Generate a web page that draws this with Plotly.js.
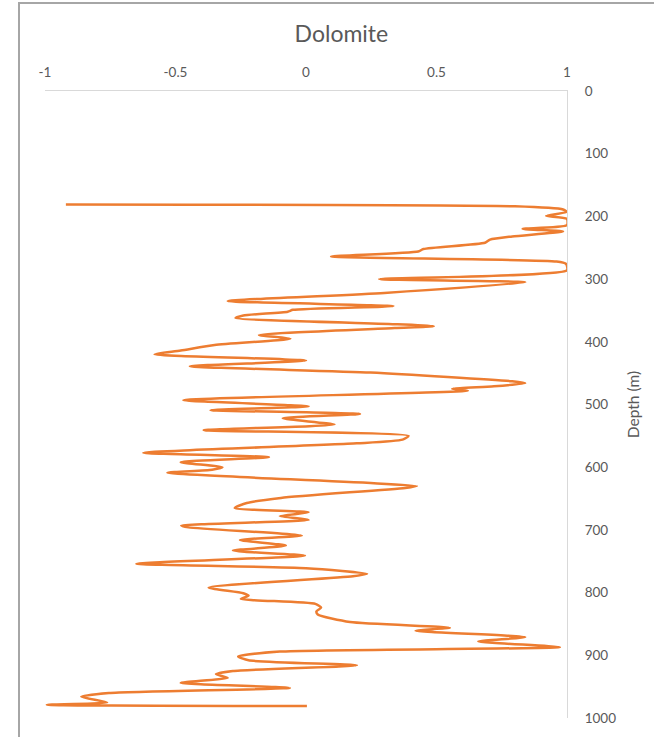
<!DOCTYPE html>
<html>
<head>
<meta charset="utf-8">
<script src="https://cdn.plot.ly/plotly-3.0.1.min.js"></script>
<style>
  html, body { margin: 0; padding: 0; background: #ffffff; overflow: hidden; }
  #frame { position: absolute; left: 18px; top: 2px; width: 700px; height: 800px;
           border-left: 2px solid #a6a6a6; border-top: 2px solid #a6a6a6; box-sizing: border-box; }
  #chart { position: absolute; left: 0; top: 0; width: 654px; height: 737px; }
</style>
</head>
<body>
<div id="frame"></div>
<div id="chart"></div>
<script>
// Dolomite log versus depth
const depthM = [
  181, 184, 189, 193, 199, 204, 214, 220, 224, 232,
  237, 242, 252, 256, 264, 272, 276, 286, 300, 305,
  322, 335, 343, 349, 352, 358, 362, 372, 375, 378,
  389, 395, 405, 414, 420, 430, 439, 449, 463, 466,
  471, 475, 478, 493, 503, 509, 515, 522, 532, 541,
  550, 556, 562, 577, 584, 592, 600, 604, 609, 630,
  633, 649, 657, 665, 672, 678, 684, 693, 696, 709,
  716, 725, 733, 741, 754, 761, 770, 774, 792, 801,
  805, 810, 818, 824, 830, 835, 847, 856, 861, 871,
  878, 887, 894, 902, 908, 916, 925, 930, 936, 944,
  952, 960, 966, 975, 979, 981
];
const dolomite = [
  -0.92, 0.80, 0.985, 1.0, 0.92, 1.0, 1.0, 0.83, 0.985, 0.79,
  0.705, 0.686, 0.45, 0.43, 0.096, 0.96, 0.997, 1.0, 0.28, 0.84,
  0.30, -0.30, 0.335, -0.05, -0.07, -0.24, -0.27, 0.35, 0.49, 0.34,
  -0.18, -0.06, -0.35, -0.48, -0.58, 0.0, -0.445, 0.247, 0.79, 0.84,
  0.72, 0.56, 0.62, -0.47, 0.01, -0.366, 0.207, -0.089, 0.109, -0.392,
  0.393, 0.37, 0.195, -0.623, -0.142, -0.48, -0.32, -0.36, -0.531, 0.425,
  0.38, -0.096, -0.227, -0.273, 0.01, -0.1, 0.01, -0.478, -0.45, -0.016,
  -0.253, -0.077, -0.28, -0.004, -0.65, 0.0, 0.234, 0.18, -0.373, -0.24,
  -0.22, -0.25, 0.036, 0.058, 0.04, 0.045, 0.169, 0.551, 0.42, 0.84,
  0.66, 0.973, -0.1, -0.26, -0.22, 0.195, -0.28, -0.345, -0.30, -0.48,
  -0.062, -0.755, -0.861, -0.762, -0.993, 0.0035
];
const xTicks = [-1, -0.5, 0, 0.5, 1];
const xTickText = ['-1', '-0.5', '0', '0.5', '1'];
const yTicks = [0, 100, 200, 300, 400, 500, 600, 700, 800, 900, 1000];

const textColor = '#595959';
const fontFamily = 'Lato, "Open Sans", sans-serif';

const trace = {
  x: dolomite,
  y: depthM,
  type: 'scatter',
  mode: 'lines',
  line: { color: '#ED7D31', width: 2.5, shape: 'spline', smoothing: 0.6 },
  hoverinfo: 'x+y'
};

const layout = {
  width: 654,
  height: 737,
  margin: { l: 45, r: 87, t: 91, b: 19 },
  paper_bgcolor: 'rgba(0,0,0,0)',
  plot_bgcolor: 'rgba(0,0,0,0)',
  showlegend: false,
  title: {
    text: 'Dolomite',
    font: { family: fontFamily, size: 23, color: textColor },
    xref: 'container', x: 0.522, xanchor: 'center',
    yref: 'container', y: 0.954, yanchor: 'middle'
  },
  xaxis: {
    side: 'top',
    range: [-1, 1],
    tickvals: xTicks,
    ticktext: xTickText,
    showgrid: false,
    zeroline: false,
    showline: true,
    linecolor: '#d9d9d9',
    linewidth: 1,
    ticks: '',
    ticklabelstandoff: 8,
    tickfont: { family: fontFamily, size: 13.5, color: textColor },
    fixedrange: true
  },
  yaxis: {
    side: 'right',
    range: [1000, 0],
    tickvals: yTicks,
    showgrid: false,
    zeroline: false,
    showline: true,
    linecolor: '#d9d9d9',
    linewidth: 1,
    ticks: '',
    ticklabelstandoff: 14,
    tickfont: { family: fontFamily, size: 13.5, color: textColor },
    title: {
      text: 'Depth (m)',
      font: { family: fontFamily, size: 15.5, color: textColor },
      standoff: 12
    },
    fixedrange: true
  }
};

Plotly.newPlot('chart', [trace], layout, { displayModeBar: false, staticPlot: true });
</script>
</body>
</html>
